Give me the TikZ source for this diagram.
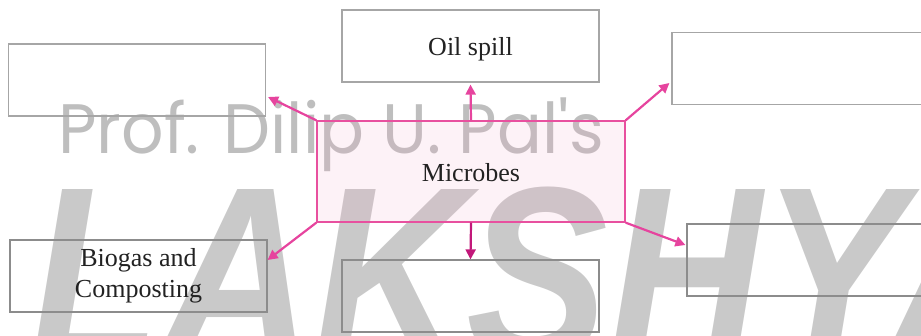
\documentclass[tikz,border=0pt]{standalone}
\usepackage{fontspec}
\setmainfont{Liberation Serif}
\newfontfamily\wmfont{Poppins}
\newfontfamily\bigwm{Liberation Sans}
\usetikzlibrary{arrows.meta,calc}
\definecolor{wmgray}{HTML}{BEBEBE}
\definecolor{wmgraytwo}{HTML}{C9C9C9}
\definecolor{boxpink}{HTML}{E8509F}
\definecolor{fillpink}{HTML}{F4A6C6}
\definecolor{arrpink}{HTML}{E6449E}
\definecolor{arrdark}{HTML}{C2187A}
\definecolor{txt}{HTML}{222222}
\begin{document}
\begin{tikzpicture}[x=1pt,y=1pt,
  emptybox/.style={draw=#1,line width=1.2pt,minimum width=257pt,minimum height=72pt,inner sep=0pt,
    text=txt,font=\fontsize{26}{31}\selectfont,align=center},
  emptybox/.default={gray!75},
  oneline/.style={text height=20pt,text depth=0pt},
  centerbox/.style={draw=boxpink,line width=1.3pt,fill=fillpink,fill opacity=0.15,text opacity=1,
    minimum width=308pt,minimum height=101pt,inner sep=0pt,text=txt,font=\fontsize{26}{31}\selectfont},
  conn/.style={draw=arrpink,line width=2.2pt,-{Triangle[length=10pt,width=10pt]}}]
\useasboundingbox (0,0) rectangle (921,-336);
\clip (0,0) rectangle (921,-336);
% watermark
\node[anchor=base west,inner sep=0pt,text=wmgray,xscale=0.95,font=\wmfont\fontsize{70}{70}\selectfont] (wmA) at (58,-154) {Prof. Dilip U. Pal's};
\node[anchor=base west,inner sep=0pt,text=wmgraytwo,xscale=0.85,font=\bigwm\bfseries\itshape\fontsize{250}{250}\selectfont] (wmB) at (30,-362) {LAKSHYA};
% boxes
\node[centerbox,oneline] (c) at (471,-171.5) {Microbes};
\node[emptybox={gray!70}] (tl) at (137,-80) {};
\node[emptybox={gray!70},oneline] (oil) at (470.5,-46) {Oil spill};
\node[emptybox={gray!70},minimum width=258pt] (tr) at (801,-68.5) {};
\node[emptybox={gray!90}] (bl) at (138.5,-276) {Biogas and\\Composting};
\node[emptybox={gray!90}] (bc) at (470.5,-296) {};
\node[emptybox={gray!90},minimum width=258pt] (br) at (816,-260) {};
% connectors
\draw[conn] (c.north west) -- ([shift={(2,-17)}]tl.east);
\draw[conn] (c.north) -- ([yshift=-2]oil.south);
\draw[conn] (c.north east) -- ([shift={(-2,-14.5)}]tr.west);
\draw[conn] (c.south west) -- ([shift={(0,16)}]bl.east);
\draw[conn,draw=arrdark] (c.south) -- (bc.north);
\draw[conn] (c.south east) -- ([shift={(-1,15)}]br.west);
\end{tikzpicture}
\end{document}
